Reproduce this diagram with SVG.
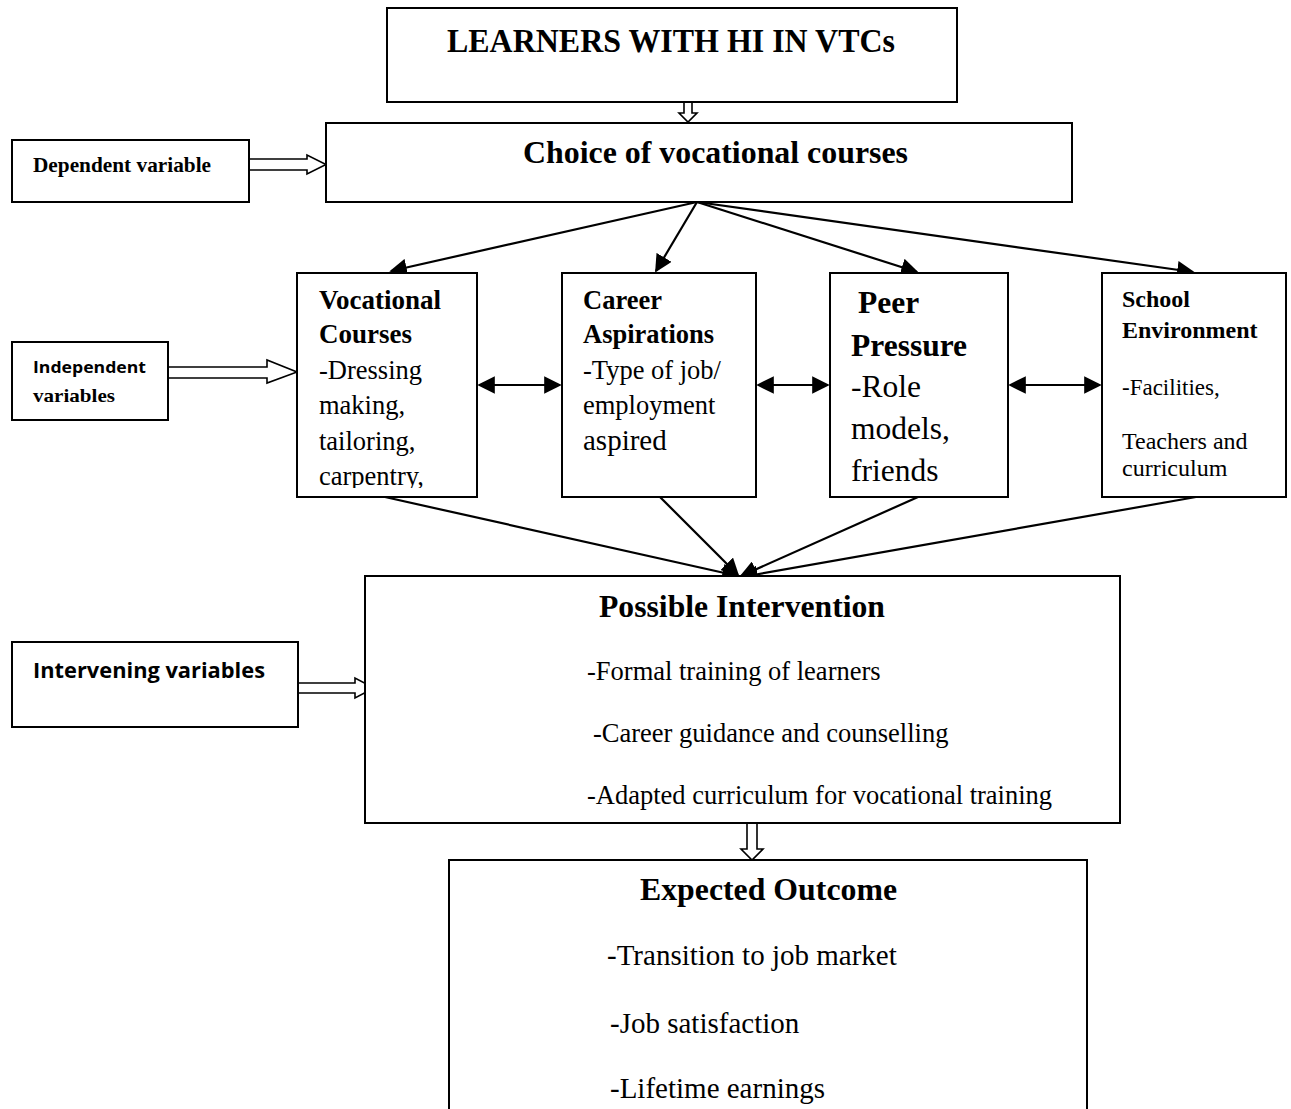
<svg xmlns="http://www.w3.org/2000/svg" width="1291" height="1109" viewBox="0 0 1291 1109">
<style>
.box{fill:#fff;stroke:#000;stroke-width:2}
.hollow{fill:#fff;stroke:#000;stroke-width:1.6}
.ln{stroke:#000;stroke-width:2.2;fill:none}
.serif{font-family:"Liberation Serif","Times New Roman",serif;fill:#000}
.sans{font-family:"Open Sans","Liberation Sans",sans-serif;fill:#000;font-weight:bold}
.b{font-weight:bold}
</style>
<defs>
<marker id="ah" viewBox="0 0 10 10" refX="9" refY="5" markerWidth="8" markerHeight="8" orient="auto-start-reverse">
<path d="M0,0 L10,5 L0,10 z" fill="#000"/>
</marker>
<clipPath id="clipVC"><rect x="297" y="273" width="180" height="215"/></clipPath>
</defs>

<g id="connectors">
<polygon class="hollow" points="684,102 692,102 692,113 697,113 688,122 679,113 684,113"/>
<polygon class="hollow" points="249,159 307,159 307,155 326,164.5 307,174 307,170 249,170"/>
<polygon class="hollow" points="168,367 267,367 267,360 297,372 267,383 267,378 168,378"/>
<polygon class="hollow" points="298,683 355,683 355,678 374,688 355,698 355,693 298,693"/>
<polygon class="hollow" points="747,823 757,823 757,849 763,849 752,860 741,849 747,849"/>
<line class="ln" x1="697" y1="202" x2="391" y2="271" marker-end="url(#ah)"/>
<line class="ln" x1="697" y1="202" x2="656" y2="271" marker-end="url(#ah)"/>
<line class="ln" x1="697" y1="202" x2="917" y2="272" marker-end="url(#ah)"/>
<line class="ln" x1="697" y1="202" x2="1193" y2="272" marker-end="url(#ah)"/>
<line class="ln" x1="479" y1="385" x2="560" y2="385" marker-start="url(#ah)" marker-end="url(#ah)"/>
<line class="ln" x1="758" y1="385" x2="828" y2="385" marker-start="url(#ah)" marker-end="url(#ah)"/>
<line class="ln" x1="1010" y1="385" x2="1100" y2="385" marker-start="url(#ah)" marker-end="url(#ah)"/>
<line class="ln" x1="385" y1="497" x2="738" y2="576" marker-end="url(#ah)"/>
<line class="ln" x1="660" y1="497" x2="738" y2="575" marker-end="url(#ah)"/>
<line class="ln" x1="918" y1="497" x2="741" y2="576" marker-end="url(#ah)"/>
<line class="ln" x1="1196" y1="497" x2="742" y2="577" marker-end="url(#ah)"/>
</g>

<g id="learners">
<rect class="box" x="387" y="8" width="570" height="94"/>
<text class="serif b" x="447" y="52" font-size="33" textLength="448" lengthAdjust="spacingAndGlyphs">LEARNERS WITH HI IN VTCs</text>
</g>

<g id="choice">
<rect class="box" x="326" y="123" width="746" height="79"/>
<text class="serif b" x="523" y="163" font-size="32" textLength="385" lengthAdjust="spacingAndGlyphs">Choice of vocational courses</text>
</g>

<g id="dependent">
<rect class="box" x="12" y="140" width="237" height="62"/>
<text class="serif b" x="33" y="172" font-size="21" textLength="178" lengthAdjust="spacingAndGlyphs">Dependent variable</text>
</g>

<g id="independent">
<rect class="box" x="12" y="342" width="156" height="78"/>
<text class="sans" x="33" y="373" font-size="16" textLength="113" lengthAdjust="spacingAndGlyphs">Independent</text>
<text class="serif b" x="33" y="402" font-size="19" textLength="82" lengthAdjust="spacingAndGlyphs">variables</text>
</g>

<g id="vocational">
<rect class="box" x="297" y="273" width="180" height="224"/>
<g clip-path="url(#clipVC)">
<text class="serif b" x="319" y="309" font-size="27">Vocational</text>
<text class="serif b" x="319" y="343" font-size="27">Courses</text>
<text class="serif" x="319" y="379" font-size="26.5">-Dressing</text>
<text class="serif" x="319" y="414" font-size="26.5">making,</text>
<text class="serif" x="319" y="450" font-size="26.5">tailoring,</text>
<text class="serif" x="319" y="485" font-size="26.5">carpentry,</text>
</g>
</g>

<g id="career">
<rect class="box" x="562" y="273" width="194" height="224"/>
<text class="serif b" x="583" y="309" font-size="26.5">Career</text>
<text class="serif b" x="583" y="343" font-size="26.5">Aspirations</text>
<text class="serif" x="583" y="379" font-size="26.5">-Type of job/</text>
<text class="serif" x="583" y="414" font-size="26.5">employment</text>
<text class="serif" x="583" y="450" font-size="29">aspired</text>
</g>

<g id="peer">
<rect class="box" x="830" y="273" width="178" height="224"/>
<text class="serif b" x="858" y="313" font-size="31.5">Peer</text>
<text class="serif b" x="851" y="356" font-size="31.5">Pressure</text>
<text class="serif" x="851" y="397" font-size="31.5">-Role</text>
<text class="serif" x="851" y="439" font-size="31.5">models,</text>
<text class="serif" x="851" y="481" font-size="31.5">friends</text>
</g>

<g id="school">
<rect class="box" x="1102" y="273" width="184" height="224"/>
<text class="serif b" x="1122" y="307" font-size="24">School</text>
<text class="serif b" x="1122" y="338" font-size="24">Environment</text>
<text class="serif" x="1122" y="395" font-size="23">-Facilities,</text>
<text class="serif" x="1122" y="449" font-size="24">Teachers and</text>
<text class="serif" x="1122" y="476" font-size="24">curriculum</text>
</g>

<g id="intervening">
<rect class="box" x="12" y="642" width="286" height="85"/>
<text class="sans" x="33" y="678" font-size="21" textLength="232" lengthAdjust="spacingAndGlyphs">Intervening variables</text>
</g>

<g id="intervention">
<rect class="box" x="365" y="576" width="755" height="247"/>
<text class="serif b" x="599" y="617" font-size="31" textLength="286" lengthAdjust="spacingAndGlyphs">Possible Intervention</text>
<text class="serif" x="587" y="680" font-size="26.5">-Formal training of learners</text>
<text class="serif" x="593" y="742" font-size="26.5">-Career guidance and counselling</text>
<text class="serif" x="587" y="804" font-size="26.5">-Adapted curriculum for vocational training</text>
</g>

<g id="outcome">
<path class="box" d="M449,1112 V860 H1087 V1112"/>
<text class="serif b" x="640" y="900" font-size="31" textLength="257" lengthAdjust="spacingAndGlyphs">Expected Outcome</text>
<text class="serif" x="607" y="965" font-size="29">-Transition to job market</text>
<text class="serif" x="610" y="1033" font-size="29">-Job satisfaction</text>
<text class="serif" x="610" y="1098" font-size="29">-Lifetime earnings</text>
</g>
</svg>
